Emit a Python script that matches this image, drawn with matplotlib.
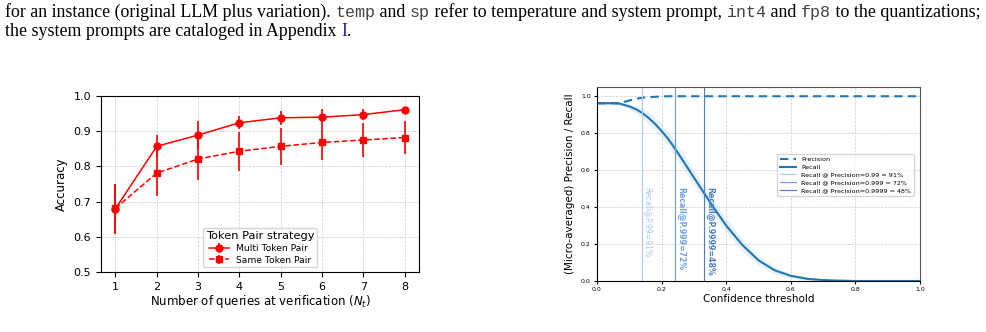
import matplotlib
matplotlib.use("Agg")
import matplotlib.pyplot as plt

# left panel: accuracy vs number of queries
queries = [1, 2, 3, 4, 5, 6, 7, 8]
multi_acc = [0.680, 0.857, 0.889, 0.924, 0.938, 0.940, 0.947, 0.961]
multi_err = [0.071, 0.031, 0.039, 0.018, 0.020, 0.023, 0.016, 0.007]
same_acc = [0.681, 0.781, 0.821, 0.843, 0.857, 0.868, 0.875, 0.882]
same_err = [0.070, 0.066, 0.061, 0.056, 0.053, 0.050, 0.047, 0.046]

# right panel: precision / recall vs confidence threshold
prec_x = [0.0, 0.05, 0.07, 0.09, 0.11, 0.13, 0.15, 0.18, 0.22, 0.3, 1.0]
prec_y = [0.962, 0.962, 0.963, 0.972, 0.982, 0.989, 0.994, 0.997, 1.0, 1.0, 1.0]
rec_x = [0.0, 0.05, 0.07, 0.10, 0.12, 0.14, 0.16, 0.18, 0.20, 0.22, 0.24, 0.26,
         0.28, 0.30, 0.33, 0.36, 0.40, 0.45, 0.50, 0.55, 0.60, 0.65, 0.70,
         0.75, 0.80, 0.90, 1.0]
rec_y = [0.962, 0.962, 0.960, 0.945, 0.930, 0.910, 0.882, 0.850, 0.812, 0.770,
         0.720, 0.668, 0.614, 0.560, 0.480, 0.400, 0.300, 0.195, 0.112, 0.058,
         0.028, 0.012, 0.005, 0.002, 0.0, 0.0, 0.0]
rec_band = [0.004, 0.005, 0.008, 0.015, 0.022, 0.028, 0.032, 0.035, 0.037, 0.038,
            0.039, 0.040, 0.040, 0.040, 0.040, 0.039, 0.037, 0.033, 0.027, 0.020,
            0.014, 0.009, 0.005, 0.003, 0.001, 0.0, 0.0]
thr_x = [0.14, 0.24, 0.33]
thr_labels = ["Recall@P.99=91%", "Recall@P.999=72%", "Recall@P.9999=48%"]
thr_legend = ["Recall @ Precision=0.99 = 91%", "Recall @ Precision=0.999 = 72%",
              "Recall @ Precision=0.9999 = 48%"]
thr_colors = ["#aec7e8", "#6a9ff0", "#4a7fc1"]

fig = plt.figure(figsize=(9.86, 3.32), dpi=100)

# page text above the figures
line1 = [("for an instance (original LLM plus variation). ", "serif"),
         ("temp", "mono"), (" and ", "serif"), ("sp", "mono"),
         (" refer to temperature and system prompt, ", "serif"),
         ("int4", "mono"), (" and ", "serif"), ("fp8", "mono"),
         (" to the quantizations;", "serif")]
line2 = [("the system prompts are cataloged in Appendix ", "serif"), ("I", "link"), (".", "serif")]
fams = {"serif": "Liberation Serif", "mono": "Liberation Mono", "link": "Liberation Serif"}
cols = {"serif": "black", "mono": "#444444", "link": "#1a1aa6"}
sizes = {"serif": 12.9, "mono": 12.0, "link": 12.9}
renderer = fig.canvas.get_renderer()
for line, ypix in [(line1, 17), (line2, 36)]:
    xpix = 5
    for txt, kind in line:
        t = fig.text(xpix / 986, 1 - ypix / 332, txt, family=fams[kind],
                     fontsize=sizes[kind], color=cols[kind], ha="left", va="baseline")
        xpix += t.get_window_extent(renderer).width

# left chart
ax1 = fig.add_axes([101 / 986, 1 - 272 / 332, 318 / 986, 176 / 332])
ax1.errorbar(queries, multi_acc, yerr=multi_err, color="red", marker="o", ms=5,
             lw=1.1, elinewidth=1.2, label="Multi Token Pair")
ax1.errorbar(queries, same_acc, yerr=same_err, color="red", marker="s", ms=5,
             lw=1.1, ls="--", elinewidth=1.2, label="Same Token Pair")
ax1.set_ylim(0.5, 1.0)
ax1.set_xticks(queries)
ax1.set_xlabel("Number of queries at verification ($N_t$)", fontsize=8.5, labelpad=1)
ax1.set_ylabel("Accuracy", fontsize=8.5)
ax1.tick_params(labelsize=8)
ax1.grid(True, ls="--", lw=0.5, color="#cccccc")
ax1.legend(title="Token Pair strategy", loc="lower center", fontsize=6.6,
           title_fontsize=8.2, borderpad=0.3, labelspacing=0.3, handlelength=2.2)

# right chart
ax2 = fig.add_axes([597 / 986, 1 - 281 / 332, 323 / 986, 194 / 332])
ax2.plot(prec_x, prec_y, color="#1f77b4", ls="--", lw=1.5, dashes=(4, 2.5), label="Precision")
lo = [y - b for y, b in zip(rec_y, rec_band)]
hi = [y + b for y, b in zip(rec_y, rec_band)]
ax2.fill_between(rec_x, lo, hi, color="#1f77b4", alpha=0.1, lw=0)
ax2.plot(rec_x, rec_y, color="#1f77b4", lw=1.5, label="Recall")
for x, lab, leglab, c, w in zip(thr_x, thr_labels, thr_legend, thr_colors,
                                ["normal", "bold", "bold"]):
    ax2.axvline(x, color=c, lw=0.8, label=leglab)
    ax2.text(x + 0.004, 0.51, lab, rotation=-90, color=c, fontsize=5.6,
             fontweight=w, ha="left", va="top")
ax2.set_xlim(0, 1)
ax2.set_ylim(0, 1.05)
ax2.set_xticks([0, 0.2, 0.4, 0.6, 0.8, 1.0])
ax2.set_yticks([0, 0.2, 0.4, 0.6, 0.8, 1.0])
ax2.tick_params(labelsize=4.5, length=2.5, pad=2)
ax2.set_xlabel("Confidence threshold", fontsize=7.5, labelpad=1)
ax2.set_ylabel("(Micro-averaged) Precision / Recall", fontsize=7.5)
ax2.grid(True, ls="--", lw=0.5, color="#cccccc")
for s in ["top", "right"]:
    ax2.spines[s].set_color("#555555")
ax2.legend(loc="upper right", bbox_to_anchor=(0.99, 0.67), fontsize=4.6,
           borderpad=0.4, labelspacing=0.35, handlelength=2.5)

fig.savefig("out.png", dpi=100)
